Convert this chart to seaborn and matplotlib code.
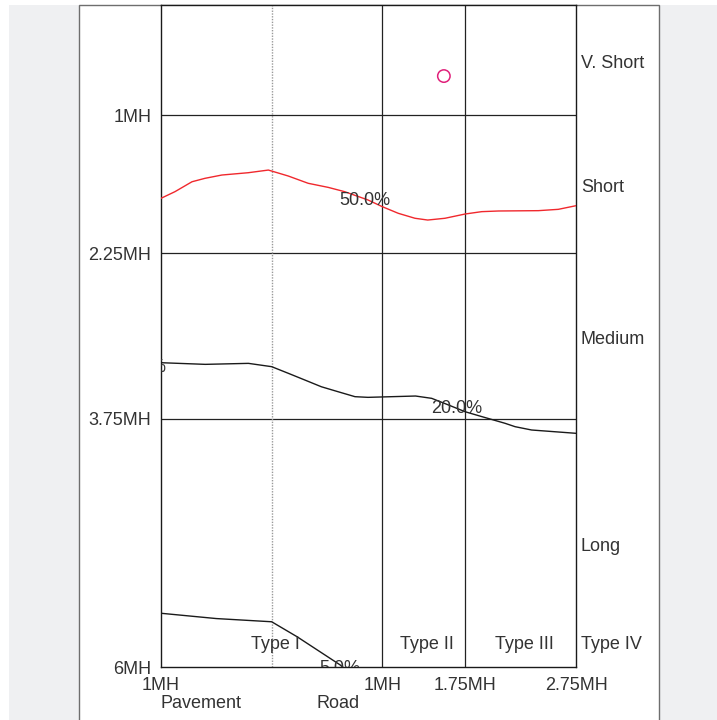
import matplotlib
matplotlib.use("Agg")
import matplotlib.pyplot as plt
from matplotlib.patches import Rectangle
import numpy as np
import pandas as pd
import seaborn as sns

# Curve samples (distance along section, depth in MH)
short_x = [-1.0, -0.874, -0.72, -0.603, -0.45, -0.211, -0.03, 0.15, 0.33, 0.511,
           0.66, 0.87, 1.0, 1.144, 1.295, 1.41, 1.566, 1.75, 1.898, 2.05, 2.41,
           2.59, 2.75]
short_y = [1.752, 1.692, 1.602, 1.571, 1.541, 1.520, 1.496, 1.550, 1.616, 1.653,
           1.692, 1.767, 1.828, 1.888, 1.933, 1.949, 1.933, 1.894, 1.873, 1.867,
           1.864, 1.852, 1.819]

medium_x = [-1.0, -0.60, -0.21, 0.0, 0.15, 0.30, 0.449, 0.60, 0.753, 0.87, 1.30,
            1.446, 1.60, 1.747, 1.90, 2.108, 2.20, 2.349, 2.75]
medium_y = [3.242, 3.257, 3.248, 3.278, 3.338, 3.399, 3.460, 3.505, 3.550, 3.556,
            3.544, 3.565, 3.626, 3.686, 3.731, 3.791, 3.822, 3.852, 3.882]

long_x = [-1.0, -0.5, 0.0, 0.23, 0.62, 0.85]
long_y = [5.513, 5.561, 5.590, 5.726, 5.982, 6.180]

# Percentage labels placed on the curves
pct_labels = ["50.0%", "20.0%", "5.0%"]
pct_x = [0.84, 1.67, 0.62]
pct_y = [1.77, 3.66, 6.01]

# Single outlier point
point_x = [1.556]
point_y = [0.644]

# Axis ticks and labels
x_ticks = [-1.0, 1.0, 1.75, 2.75]
x_tick_labels = ["1MH", "1MH", "1.75MH", "2.75MH"]
y_ticks = [1.0, 2.25, 3.75, 6.0]
y_tick_labels = ["1MH", "2.25MH", "3.75MH", "6MH"]

# Band names on the right and soil types along the bottom
band_names = ["V. Short", "Short", "Medium", "Long"]
band_centres = [0.5, 1.625, 3.0, 4.875]
type_names = ["Type I", "Type II", "Type III"]
type_x = [0.03, 1.40, 2.28]

sns.set_theme(style="white")
plt.rcParams["font.family"] = ["Liberation Sans", "DejaVu Sans"]
TXT = "#333333"
FS = 13

W, H = 717, 720
fig = plt.figure(figsize=(W / 100, H / 100), dpi=100)
fig.patch.set_facecolor("white")

# page background and white panel (behind the axes)
fig.patches.append(Rectangle((9 / W, 0), (W - 9) / W, (H - 5) / H,
                             transform=fig.transFigure, facecolor="#eff0f2",
                             edgecolor="none", zorder=-2))
fig.patches.append(Rectangle((79 / W, -0.01), (659 - 79) / W, (H - 5) / H + 0.01,
                             transform=fig.transFigure, facecolor="white",
                             edgecolor="#6e6e6e", linewidth=1.0, zorder=-1))

ax = fig.add_axes([161 / W, 1 - 667 / H, (576 - 161) / W, (667 - 5) / H])
ax.set_facecolor("white")
ax.set_xlim(-1.0, 2.75)
ax.set_ylim(6.0, 0.0)

# grid lines
for yv in [1.0, 2.25, 3.75]:
    ax.axhline(yv, color="#222222", lw=0.9, zorder=1)
for xv in [1.0, 1.75]:
    ax.axvline(xv, color="#222222", lw=0.9, zorder=1)
ax.axvline(0.0, color="#9a9a9a", lw=1.0, ls=(0, (1, 1)), zorder=1)

df_short = pd.DataFrame({"x": short_x, "y": short_y})
df_medium = pd.DataFrame({"x": medium_x, "y": medium_y})
df_long = pd.DataFrame({"x": long_x, "y": long_y})

sns.lineplot(data=df_short, x="x", y="y", sort=False, estimator=None,
             color="#f0282d", lw=1.0, ax=ax, zorder=3)
sns.lineplot(data=df_medium, x="x", y="y", sort=False, estimator=None,
             color="#1a1a1a", lw=1.0, ax=ax, zorder=3)
sns.lineplot(data=df_long, x="x", y="y", sort=False, estimator=None,
             color="#1a1a1a", lw=1.0, ax=ax, zorder=3)
for ln in ax.get_lines():
    ln.set_solid_joinstyle("round")

sns.scatterplot(x=point_x, y=point_y, ax=ax, s=80, marker="o",
                facecolors="none", edgecolor="#e0207a", linewidth=1.1, zorder=4)

for lab, xv, yv in zip(pct_labels, pct_x, pct_y):
    ax.text(xv, yv, lab, ha="center", va="center", fontsize=FS, color=TXT,
            zorder=5, clip_on=True)
# label of the medium curve starting left of the frame
ax.text(-0.955, 3.29, "35.0%", ha="right", va="center", fontsize=FS,
        color=TXT, zorder=5, clip_on=True)

for lab, xv in zip(type_names, type_x):
    ax.text(xv, 5.80, lab, ha="center", va="center", fontsize=FS, color=TXT)

for lab, yv in zip(band_names, band_centres):
    ax.text(2.795, yv + 0.03, lab, ha="left", va="center", fontsize=FS,
            color=TXT, clip_on=False)
ax.text(2.795, 5.80, "Type IV", ha="left", va="center", fontsize=FS,
        color=TXT, clip_on=False)

ax.set_xticks(x_ticks)
ax.set_xticklabels(x_tick_labels, fontsize=FS, color=TXT)
ax.set_yticks(y_ticks)
ax.set_yticklabels(y_tick_labels, fontsize=FS, color=TXT)
ax.tick_params(axis="both", length=0, pad=7)
ax.set_xlabel("")
ax.set_ylabel("")

ax.text(-1.0, 6.33, "Pavement", ha="left", va="center", fontsize=FS,
        color=TXT, clip_on=False)
ax.text(0.6, 6.33, "Road", ha="center", va="center", fontsize=FS,
        color=TXT, clip_on=False)

for s in ax.spines.values():
    s.set_color("#1a1a1a")
    s.set_linewidth(1.0)

fig.savefig("out.png", dpi=100)
